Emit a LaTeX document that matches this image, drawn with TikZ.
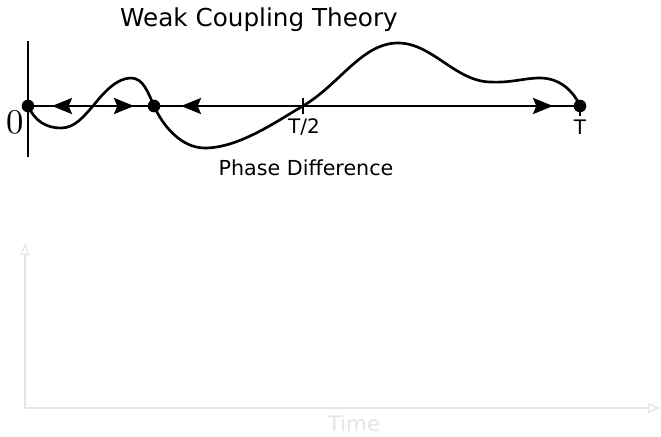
\documentclass[tikz,border=0pt]{standalone}
\usepackage{graphicx}
\usepackage{fontspec}
\newfontfamily\dejavu{DejaVu Sans}
\usetikzlibrary{arrows.meta,positioning}

\begin{document}
\begin{tikzpicture}[x=0.75pt, y=-0.75pt,
    fixpt/.style={circle, fill=black, inner sep=0pt, minimum size=9.5pt},
    axis/.style={line width=2pt, black},
    flow/.style={line width=2pt, -{Stealth[length=15pt, width=12pt, inset=2.5pt]}},
    curve/.style={line width=2pt, black, line join=round},
    lbl/.style={font=\dejavu\fontsize{15}{17}\selectfont, inner sep=0pt},
    faint/.style={draw=black!10, line width=1pt, -{Triangle[open, length=9pt, width=7pt]}}
  ]
    \useasboundingbox (0,0) rectangle (661,436);

    % Title
    \node[font=\dejavu\fontsize{18.5}{21}\selectfont] (title) at (259,20) {Weak Coupling Theory};

    % Phase axis
    \coordinate (ytop) at (28,41);
    \coordinate (ybot) at (28,157);
    \node[fixpt] (o) at (28,106) {};
    \node[fixpt] (m) at (154,106) {};
    \node[fixpt] (t) at (580,106) {};
    \coordinate (hup) at (303,98);
    \coordinate (hdn) at (303,114);
    \coordinate (tup) at (580,106);
    \coordinate (tdn) at (580,116);
    \draw[axis] (ytop) -- (ybot);
    \draw[axis] (o.center) -- (t.center);
    \draw[axis, line width=1pt] (hup) -- (hdn);
    \draw[axis, line width=1pt] (tup) -- (tdn);

    % Labels
    \node[inner sep=0pt] (zero) at (15,122) {\scalebox{2.6}{0}};
    \node[lbl] (thalf) at (304,127) {T/2};
    \node[lbl] (tend) at (580,127) {T};
    \node[lbl, font=\dejavu\fontsize{15.5}{18}\selectfont] (xlab) at (306,168) {Phase Difference};

    % Flow arrows
    \coordinate (a1s) at (80,106);  \coordinate (a1e) at (52,106);
    \coordinate (a2s) at (105,106); \coordinate (a2e) at (134,106);
    \coordinate (a3s) at (210,106); \coordinate (a3e) at (181,106);
    \coordinate (a4s) at (520,106); \coordinate (a4e) at (553,106);
    \draw[flow] (a1s) -- (a1e);
    \draw[flow] (a2s) -- (a2e);
    \draw[flow] (a3s) -- (a3e);
    \draw[flow] (a4s) -- (a4e);

    % Coupling function
    \draw[curve] (o.center)
      .. controls (35,121) and (46,128) .. (61,128)
      .. controls (75,128) and (84,116) .. (93,106)
      .. controls (104,92) and (117,78) .. (131,78)
      .. controls (143,78) and (148,92) .. (m.center)
      .. controls (162,124) and (180,148) .. (205,148)
      .. controls (240,148) and (280,119) .. (303,106)
      .. controls (340,84) and (362,43) .. (398,43)
      .. controls (432,43) and (455,81) .. (490,82)
      .. controls (512,83) and (524,78) .. (540,78)
      .. controls (562,78) and (575,94) .. (t.center);

    % Time axes (faint)
    \coordinate (origin) at (25,408);
    \coordinate (vtop) at (25,243);
    \coordinate (hend) at (660,408);
    \draw[faint] (origin) -- (vtop);
    \draw[faint] (origin) -- (hend);
    \node[font=\dejavu\fontsize{16}{18}\selectfont, text=black!10, inner sep=0pt] (tlab) at (354,424) {Time};
\end{tikzpicture}
\end{document}
